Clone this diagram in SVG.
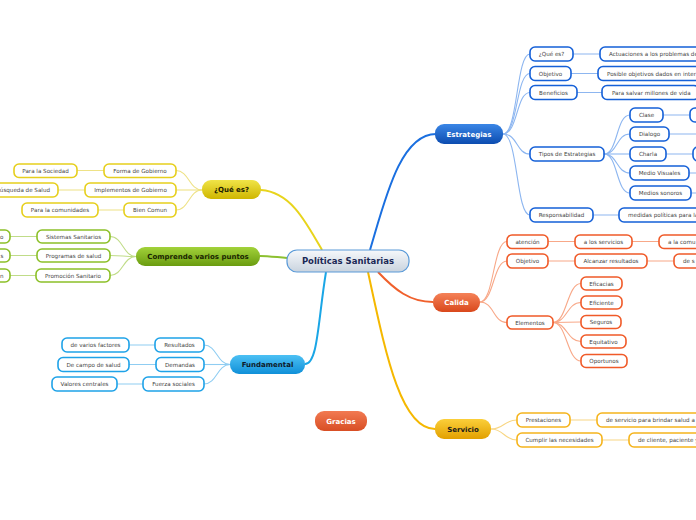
<svg xmlns="http://www.w3.org/2000/svg" width="696" height="520" viewBox="0 0 696 520">
<defs>
<linearGradient id="gC" x1="0" y1="0" x2="0" y2="1"><stop offset="0" stop-color="#f6f8fb"/><stop offset="1" stop-color="#c9d3de"/></linearGradient>
<linearGradient id="gB" x1="0" y1="0" x2="0" y2="1"><stop offset="0" stop-color="#3a86e6"/><stop offset="1" stop-color="#0c4cb0"/></linearGradient>
<linearGradient id="gO" x1="0" y1="0" x2="0" y2="1"><stop offset="0" stop-color="#f58258"/><stop offset="1" stop-color="#d9481c"/></linearGradient>
<linearGradient id="gG" x1="0" y1="0" x2="0" y2="1"><stop offset="0" stop-color="#fbcf3a"/><stop offset="1" stop-color="#e2a000"/></linearGradient>
<linearGradient id="gY" x1="0" y1="0" x2="0" y2="1"><stop offset="0" stop-color="#f0e448"/><stop offset="1" stop-color="#cfb600"/></linearGradient>
<linearGradient id="gV" x1="0" y1="0" x2="0" y2="1"><stop offset="0" stop-color="#a2d23a"/><stop offset="1" stop-color="#6a9c10"/></linearGradient>
<linearGradient id="gF" x1="0" y1="0" x2="0" y2="1"><stop offset="0" stop-color="#4cc0f4"/><stop offset="1" stop-color="#1090d8"/></linearGradient>
<linearGradient id="gR" x1="0" y1="0" x2="0" y2="1"><stop offset="0" stop-color="#f27a52"/><stop offset="1" stop-color="#d84e24"/></linearGradient>
</defs>
<style>
text{font-family:"DejaVu Sans","Liberation Sans",sans-serif;}
.t{font-size:5.6px;fill:#444;text-anchor:middle;}
.ts{font-size:5.6px;fill:#444;}
.te{font-size:5.6px;fill:#444;text-anchor:end;}
.m{font-size:7px;font-weight:bold;text-anchor:middle;}
.n{fill:#fff;stroke-width:1.6;}
.nb{stroke:#1560d8;} .no{stroke:#f05a28;} .ng{stroke:#f5b41c;} .ny{stroke:#e6cf1c;} .nv{stroke:#8cc028;} .nf{stroke:#1ea2e8;}
.c{fill:none;stroke-width:1.1;}
.cb{stroke:#8db6f0;} .co{stroke:#f8a888;} .cg{stroke:#f8d683;} .cy{stroke:#eee286;} .cv{stroke:#c0dc88;} .cf{stroke:#8fcdf2;}
.mc{fill:none;stroke-width:2;}
</style>

<g id="connectors">
<path class="mc" stroke="#1a6fe0" d="M370 250 C385 200,400 134,436 134"/>
<path class="mc" stroke="#e8d41c" d="M322 250 C305 220,290 192,261 190"/>
<path class="mc" stroke="#8cc030" d="M287 258 C275 257,268 256,260 256"/>
<path class="mc" stroke="#1aa6e6" d="M326 272 C318 320,318 364,305 364"/>
<path class="mc" stroke="#f5b800" d="M368 272 C385 350,400 429,435 429"/>
<path class="mc" stroke="#f0602c" d="M378 272 C395 290,410 302,433 302"/>

<path class="c cb" d="M503 134 C518 134,516 54,530 54"/>
<path class="c cb" d="M503 134 C518 134,516 73.5,530 73.5"/>
<path class="c cb" d="M503 134 C518 134,516 92.5,530 92.5"/>
<path class="c cb" d="M503 134 C518 134,516 154,530 154"/>
<path class="c cb" d="M503 134 C518 134,516 215,530 215"/>
<path class="c cb" d="M573 54 L600 54 M571 73.5 L598 73.5 M577 92.5 L602 92.5 M593 215 L619 215"/>
<path class="c cb" d="M604 154 C618 154,616 115,630 115"/>
<path class="c cb" d="M604 154 C618 154,616 134,630 134"/>
<path class="c cb" d="M604 154 L630 154"/>
<path class="c cb" d="M604 154 C618 154,616 173,630 173"/>
<path class="c cb" d="M604 154 C618 154,616 193,630 193"/>
<path class="c cb" d="M663 115 L690 115 M669 134 L700 134 M666 154 L693 154 M689 173 L700 173 M691 193 L700 193"/>

<path class="c co" d="M480 302 C494 302,493 241.5,507 241.5"/>
<path class="c co" d="M480 302 C494 302,493 261,507 261"/>
<path class="c co" d="M480 302 C494 302,493 322.5,507 322.5"/>
<path class="c co" d="M548 241.5 L575 241.5 M632 241.5 L659 241.5 M548 261 L575 261 M647 261 L674 261"/>
<path class="c co" d="M553 322.5 C567 322.5,567 283.5,581 283.5"/>
<path class="c co" d="M553 322.5 C567 322.5,567 302.5,581 302.5"/>
<path class="c co" d="M553 322.5 L581 322"/>
<path class="c co" d="M553 322.5 C567 322.5,567 341.5,581 341.5"/>
<path class="c co" d="M553 322.5 C567 322.5,567 361,581 361"/>

<path class="c cg" d="M491 429 C504 429,504 420,517 420"/>
<path class="c cg" d="M491 429 C504 429,504 440,517 440"/>
<path class="c cg" d="M570 420 L597 420 M602 440 L629 440"/>

<path class="c cy" d="M202 190 C189 190,189 170.5,176 170.5"/>
<path class="c cy" d="M202 190 L176 190"/>
<path class="c cy" d="M202 190 C189 190,189 210,176 210"/>
<path class="c cy" d="M104 170.5 L77 170.5 M85 190 L58 190 M124 210 L98 210"/>

<path class="c cv" d="M136 256.5 C123 256.5,123 236.5,110 236.5"/>
<path class="c cv" d="M136 256.5 C123 256.5,123 255.5,110 255.5"/>
<path class="c cv" d="M136 256.5 C123 256.5,123 275.5,110 275.5"/>
<path class="c cv" d="M37 236.5 L10 236.5 M37 255.5 L10 255.5 M36 275.5 L10 275.5"/>

<path class="c cf" d="M230 364.5 C217 364.5,217 345,204 345"/>
<path class="c cf" d="M230 364.5 L204 364.5"/>
<path class="c cf" d="M230 364.5 C217 364.5,217 384,204 384"/>
<path class="c cf" d="M155 345 L129 345 M156 364.5 L129 364.5 M143 384 L117 384"/>
</g>

<g id="central"><rect x="287" y="250" width="122" height="22" rx="10" fill="url(#gC)" stroke="#5a9ad8" stroke-width="1.2"/><text x="348" y="264" font-size="8.5" font-weight="bold" fill="#1b2856" text-anchor="middle">Políticas Sanitarias</text></g>

<g id="estrategias"><rect x="435" y="124" width="68" height="20" rx="9" fill="url(#gB)"/><text class="m" x="469" y="136.5" fill="#fff">Estrategias</text></g>
<g id="calida"><rect x="433" y="293" width="47" height="19" rx="9" fill="url(#gO)"/><text class="m" x="456.5" y="305" fill="#fff">Calida</text></g>
<g id="servicio"><rect x="435" y="419" width="56" height="20" rx="9" fill="url(#gG)"/><text class="m" x="463" y="431.5" fill="#1a1a1a">Servicio</text></g>
<g id="gracias"><rect x="315" y="411" width="52" height="20" rx="9" fill="url(#gR)"/><text class="m" x="341" y="423.5" fill="#fff">Gracias</text></g>
<g id="fundamental"><rect x="230" y="355" width="75" height="19" rx="9" fill="url(#gF)"/><text class="m" x="267.5" y="367" fill="#0e1a2a">Fundamental</text></g>
<g id="comprende"><rect x="136" y="247" width="124" height="19" rx="9" fill="url(#gV)"/><text class="m" x="198" y="259" fill="#1a2500">Comprende varios puntos</text></g>
<g id="quees"><rect x="202" y="180" width="59" height="19" rx="9" fill="url(#gY)"/><text class="m" x="231.5" y="192" fill="#1a1a00">¿Qué es?</text></g>

<g id="e-quees"><rect class="n nb" x="530" y="47" width="43" height="14" rx="5"/><text class="t" x="551.5" y="56">¿Qué es?</text></g>
<g id="e-objetivo"><rect class="n nb" x="530" y="66.5" width="41" height="14" rx="5"/><text class="t" x="550.5" y="75.5">Objetivo</text></g>
<g id="e-beneficios"><rect class="n nb" x="530" y="85.5" width="47" height="14" rx="5"/><text class="t" x="553.5" y="94.5">Beneficios</text></g>
<g id="e-tipos"><rect class="n nb" x="530" y="147" width="74" height="14" rx="5"/><text class="t" x="567" y="156">Tipos de Estrategias</text></g>
<g id="e-resp"><rect class="n nb" x="530" y="208" width="63" height="14" rx="5"/><text class="t" x="561.5" y="217">Responsabilidad</text></g>
<g id="e-actuaciones"><rect class="n nb" x="600" y="47" width="110" height="14" rx="5"/><text class="ts" x="609" y="56">Actuaciones a los problemas de</text></g>
<g id="e-posible"><rect class="n nb" x="598" y="66.5" width="110" height="14" rx="5"/><text class="ts" x="607" y="75.5">Posible objetivos dados en inter</text></g>
<g id="e-salvar"><rect class="n nb" x="602" y="85.5" width="97" height="14" rx="5"/><text class="ts" x="612" y="94.5">Para salvar millones de vida</text></g>
<g id="e-medidas"><rect class="n nb" x="619" y="208" width="100" height="14" rx="5"/><text class="ts" x="628" y="217">medidas políticas para la</text></g>
<g id="t-clase"><rect class="n nb" x="630" y="108" width="33" height="14" rx="5"/><text class="t" x="646.5" y="117">Clase</text></g>
<g id="t-dialogo"><rect class="n nb" x="630" y="127" width="39" height="14" rx="5"/><text class="t" x="649.5" y="136">Dialogo</text></g>
<g id="t-charla"><rect class="n nb" x="630" y="147" width="36" height="14" rx="5"/><text class="t" x="648" y="156">Charla</text></g>
<g id="t-visuales"><rect class="n nb" x="630" y="166" width="59" height="14" rx="5"/><text class="t" x="659.5" y="175">Medio Visuales</text></g>
<g id="t-sonoros"><rect class="n nb" x="630" y="186" width="61" height="14" rx="5"/><text class="t" x="660.5" y="195">Medios sonoros</text></g>
<g id="t-clase2"><rect class="n nb" x="690" y="108" width="30" height="14" rx="5"/></g>
<g id="t-charla2"><rect class="n nb" x="693" y="147" width="30" height="14" rx="5"/></g>

<g id="c-atencion"><rect class="n no" x="507" y="235" width="41" height="13.5" rx="5"/><text class="t" x="527.5" y="243.5">atención</text></g>
<g id="c-objetivo"><rect class="n no" x="507" y="254" width="41" height="14" rx="5"/><text class="t" x="527.5" y="263">Objetivo</text></g>
<g id="c-elementos"><rect class="n no" x="507" y="316" width="46" height="13" rx="5"/><text class="t" x="530" y="324.5">Elementos</text></g>
<g id="c-servicios"><rect class="n no" x="575" y="235" width="57" height="13.5" rx="5"/><text class="t" x="603.5" y="243.5">a los servicios</text></g>
<g id="c-comunidad"><rect class="n no" x="659" y="235" width="60" height="13.5" rx="5"/><text class="ts" x="668" y="243.5">a la comu</text></g>
<g id="c-alcanzar"><rect class="n no" x="575" y="254" width="72" height="14" rx="5"/><text class="t" x="611" y="263">Alcanzar resultados</text></g>
<g id="c-des"><rect class="n no" x="674" y="254" width="50" height="14" rx="5"/><text class="ts" x="683" y="263">de s</text></g>
<g id="c-eficacias"><rect class="n no" x="581" y="277" width="41" height="13" rx="5"/><text class="t" x="601.5" y="285.5">Eficacias</text></g>
<g id="c-eficiente"><rect class="n no" x="581" y="296" width="41" height="13" rx="5"/><text class="t" x="601.5" y="304.5">Eficiente</text></g>
<g id="c-seguros"><rect class="n no" x="581" y="315.5" width="40" height="13" rx="5"/><text class="t" x="601" y="324">Seguros</text></g>
<g id="c-equitativo"><rect class="n no" x="581" y="335" width="45" height="13" rx="5"/><text class="t" x="603.5" y="343.5">Equitativo</text></g>
<g id="c-oportunos"><rect class="n no" x="581" y="354.5" width="46" height="13" rx="5"/><text class="t" x="604" y="363">Oportunos</text></g>

<g id="s-prestaciones"><rect class="n ng" x="517" y="413" width="53" height="14" rx="5"/><text class="t" x="543.5" y="422">Prestaciones</text></g>
<g id="s-cumplir"><rect class="n ng" x="517" y="433" width="85" height="14" rx="5"/><text class="t" x="559.5" y="442">Cumplir las necesidades</text></g>
<g id="s-brindar"><rect class="n ng" x="597" y="413" width="110" height="14" rx="5"/><text class="ts" x="606" y="422">de servicio para brindar salud a l</text></g>
<g id="s-cliente"><rect class="n ng" x="629" y="433" width="90" height="14" rx="5"/><text class="ts" x="638" y="442">de cliente, paciente y</text></g>

<g id="q-forma"><rect class="n ny" x="104" y="164" width="72" height="13.5" rx="5"/><text class="t" x="140" y="172.5">Forma de Gobierno</text></g>
<g id="q-implementos"><rect class="n ny" x="85" y="183" width="91" height="14" rx="5"/><text class="t" x="130.5" y="192">Implementos de Gobierno</text></g>
<g id="q-bien"><rect class="n ny" x="124" y="203" width="52" height="14" rx="5"/><text class="t" x="150" y="212">Bien Comun</text></g>
<g id="q-sociedad"><rect class="n ny" x="14" y="164" width="63" height="13.5" rx="5"/><text class="t" x="45.5" y="172.5">Para la Sociedad</text></g>
<g id="q-busqueda"><rect class="n ny" x="-30" y="183" width="88" height="14" rx="5"/><text class="te" x="50" y="192">Búsqueda de Salud</text></g>
<g id="q-comunidades"><rect class="n ny" x="22" y="203" width="76" height="14" rx="5"/><text class="t" x="60" y="212">Para la comunidades</text></g>

<g id="v-sistemas"><rect class="n nv" x="37" y="230" width="73" height="13" rx="5"/><text class="t" x="73.5" y="238.5">Sistemas Sanitarios</text></g>
<g id="v-programas"><rect class="n nv" x="37" y="249" width="73" height="13" rx="5"/><text class="t" x="73.5" y="257.5">Programas de salud</text></g>
<g id="v-promocion"><rect class="n nv" x="36" y="269" width="74" height="13" rx="5"/><text class="t" x="73" y="277.5">Promoción Sanitario</text></g>
<g id="v-g1"><rect class="n nv" x="-40" y="230" width="50" height="13" rx="5"/><text class="te" x="3.5" y="238.5">o</text></g>
<g id="v-g2"><rect class="n nv" x="-40" y="249" width="50" height="13" rx="5"/><text class="te" x="3.5" y="257.5">s</text></g>
<g id="v-g3"><rect class="n nv" x="-40" y="269" width="50" height="13" rx="5"/><text class="te" x="3.5" y="277.5">n</text></g>

<g id="f-resultados"><rect class="n nf" x="155" y="338" width="49" height="14" rx="5"/><text class="t" x="179.5" y="347">Resultados</text></g>
<g id="f-demandas"><rect class="n nf" x="156" y="357.5" width="48" height="14" rx="5"/><text class="t" x="180" y="366.5">Demandas</text></g>
<g id="f-fuerza"><rect class="n nf" x="143" y="377" width="61" height="14" rx="5"/><text class="t" x="173.5" y="386">Fuerza sociales</text></g>
<g id="f-factores"><rect class="n nf" x="62" y="338" width="67" height="14" rx="5"/><text class="t" x="95.5" y="347">de varios factores</text></g>
<g id="f-campo"><rect class="n nf" x="58" y="357.5" width="71" height="14" rx="5"/><text class="t" x="93.5" y="366.5">De campo de salud</text></g>
<g id="f-valores"><rect class="n nf" x="52" y="377" width="65" height="14" rx="5"/><text class="t" x="84.5" y="386">Valores centrales</text></g>
</svg>
